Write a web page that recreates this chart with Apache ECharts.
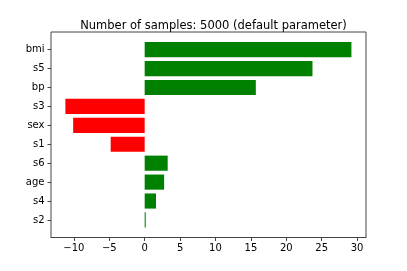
<!DOCTYPE html>
<html><head><meta charset="utf-8">
<script src="https://cdn.jsdelivr.net/npm/echarts@6/dist/echarts.min.js"></script>
<style>html,body{margin:0;padding:0;background:#fff}#c{width:407px;height:271px}</style>
</head><body><div id="c"></div>
<script>
const categories = ['bmi','s5','bp','s3','sex','s1','s6','age','s4','s2'];
const values = [29.2, 23.7, 15.7, -11.2, -10.1, -4.8, 3.25, 2.75, 1.6, 0.15];
const xTicks = [-10,-5,0,5,10,15,20,25,30];
const titleText = 'Number of samples: 5000 (default parameter)';

const font = 'DejaVu Sans';
const chart = echarts.init(document.getElementById('c'), null, {renderer:'canvas'});
chart.setOption({
  animation:false,
  backgroundColor:'#fff',
  title:{text:titleText, left:208.5, top:15, textAlign:'center',
    textStyle:{fontFamily:font, fontSize:11.5, fontWeight:'normal', color:'#000'}},
  grid:[
    {left:51, top:32, width:315, height:205.5, show:true, borderColor:'#444', borderWidth:1, backgroundColor:'transparent'},
    {left:51, top:40.2, width:315, height:189.2}
  ],
  xAxis:[
    {gridIndex:0, type:'value', min:-13.23, max:31.26,
      axisLine:{show:true, onZero:false, lineStyle:{color:'#444', width:1}},
      axisTick:{show:true, length:3.5, customValues:xTicks, lineStyle:{color:'#444'}},
      axisLabel:{customValues:xTicks, margin:5.5, fontFamily:font, fontSize:10, color:'#000',
        formatter:v=>String(v).replace('-','\u2212')},
      splitLine:{show:false}},
    {gridIndex:1, type:'value', min:-13.23, max:31.26, show:false}
  ],
  yAxis:[
    {gridIndex:0, type:'value', show:false},
    {gridIndex:1, type:'category', inverse:true, data:categories, position:'left',
      axisLine:{show:true, onZero:false, lineStyle:{color:'rgba(0,0,0,0)', width:1}},
      axisTick:{show:true, length:3.5, alignWithLabel:true, lineStyle:{color:'#444'}},
      axisLabel:{margin:6.5, fontFamily:font, fontSize:10, color:'#000'}}
  ],
  series:[{
    type:'bar', xAxisIndex:1, yAxisIndex:1, barWidth:'80%',
    data: values.map(v=>({value:v, itemStyle:{color: v<0 ? '#ff0000' : '#008000'}}))
  }]
});
</script></body></html>
